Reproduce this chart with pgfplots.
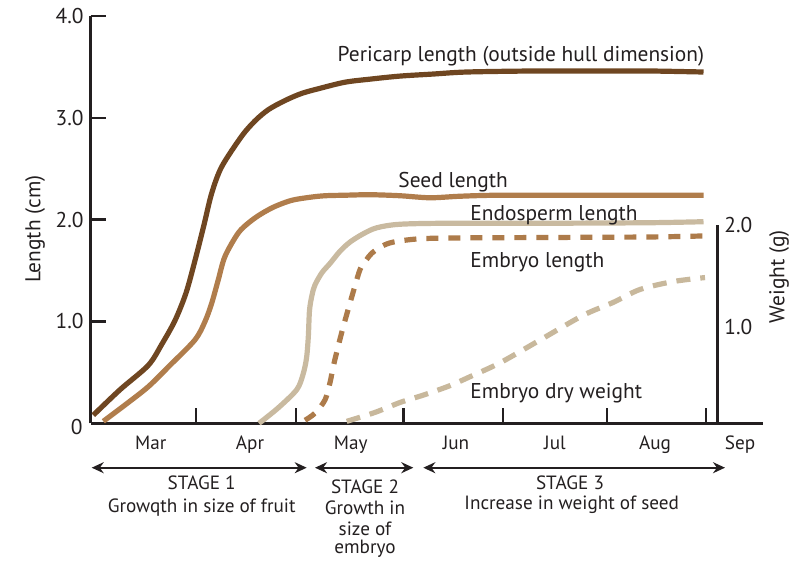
\documentclass[border=0pt]{standalone}
\usepackage{pgfplots}
\pgfplotsset{compat=1.18}
\usepackage{fontspec}
\setmainfont{PT Sans}
\usetikzlibrary{arrows.meta}
\definecolor{ink}{RGB}{35,31,32}
\definecolor{peri}{RGB}{111,70,33}
\definecolor{seed}{RGB}{176,125,76}
\definecolor{endo}{RGB}{201,186,160}
\definecolor{embl}{RGB}{173,123,74}
\definecolor{embw}{RGB}{200,184,156}
\newcommand{\lbl}{\fontsize{9.6}{11.4}\selectfont}
\newcommand{\lblbig}{\fontsize{10.7}{12.8}\selectfont}
\begin{document}
\begin{tikzpicture}[font=\lbl, text=ink]
\begin{axis}[
  scale only axis, width=336pt, height=203.65pt,
  xmin=90.7, xmax=762.7, ymin=0, ymax=4,
  axis lines=left, axis line style={-, line width=1.3pt, color=ink},
  xtick={196,295.7,403.3,502.7,606.7,706}, xticklabels={},
  ytick={1,2,3,4}, yticklabels={1.0,2.0,3.0,4.0},
  tick align=inside, major tick length=7.5pt,
  tick style={line width=1.2pt, color=ink},
  yticklabel style={font=\lblbig, color=ink},
  clip=false,
  every axis plot/.append style={line width=2.6pt, smooth, tension=0.5},
]
% Pericarp length
\addplot[peri] coordinates {
(93.3,0.08) (120,0.33) (148.3,0.57) (162,0.78) (175,1.01) (186,1.28) (195,1.60)
(204,1.95) (211.7,2.26) (221.7,2.52) (241.7,2.82) (255,2.97) (268.3,3.08)
(285,3.17) (301.7,3.24) (320,3.29) (345,3.35) (370,3.38) (400,3.41) (433,3.43)
(466.7,3.45) (533,3.46) (600,3.46) (650,3.46) (703.5,3.45)};
% Seed length
\addplot[seed] coordinates {
(103.3,0.02) (125,0.18) (148.3,0.36) (170,0.57) (195,0.82) (205,1.00) (211.7,1.18)
(218,1.40) (225,1.64) (238.3,1.87) (250,1.98) (261.7,2.06) (275,2.13) (291.7,2.19)
(310,2.22) (325,2.235) (345,2.24) (370,2.245) (400,2.235) (430,2.215) (460,2.23)
(500,2.24) (600,2.24) (703.5,2.24)};
% Endosperm length
\addplot[endo] coordinates {
(259,0.0) (278,0.15) (296.7,0.33) (303,0.48) (306.5,0.64) (308.3,0.85) (309.5,1.11)
(312,1.26) (315,1.36) (322,1.48) (330,1.57) (340,1.69) (350,1.78) (363,1.86)
(376.7,1.92) (400,1.955) (450,1.965) (550,1.965) (650,1.97) (703.5,1.98)};
% Embryo length
\addplot[embl, dash pattern=on 6pt off 5pt] coordinates {
(305,0.03) (315,0.10) (325,0.23) (330,0.40) (333.3,0.56) (338,0.75) (343.3,0.95)
(351.7,1.24) (360,1.51) (366,1.60) (371.7,1.67) (382,1.74) (393.3,1.78)
(416.7,1.81) (450,1.82) (550,1.825) (650,1.83) (703.5,1.84)};
% Embryo dry weight (g), right scale
\addplot[embw, dash pattern=on 7pt off 5pt, y filter/.expression={y*0.9737}] coordinates {
(346.7,0.02) (375,0.11) (400,0.21) (425,0.29) (450,0.38) (470,0.47) (500,0.61)
(540,0.84) (583.3,1.09) (613.3,1.22) (640,1.35) (673.3,1.43) (705,1.47)};

% right weight axis
\draw[ink, line width=1.3pt] (axis cs:717.7,0) -- (axis cs:717.7,1.948);
\node[anchor=west, inner sep=0pt, font=\lblbig] at (axis cs:724,1.946) {2.0};
\node[anchor=west, inner sep=0pt, font=\lblbig] at (axis cs:724,0.941) {1.0};
\node[rotate=90, inner sep=0pt, font=\lblbig] at (axis cs:779,1.44) {Weight (g)};
\node[rotate=90, inner sep=0pt, font=\lblbig] at (axis cs:35,1.906) {Length (cm)};
\node[inner sep=0pt, font=\lblbig] at (axis cs:76.7,-0.036) {0};

% month labels
\node[anchor=base, inner sep=0pt] at (axis cs:150.8,-0.262) {Mar};
\node[anchor=base, inner sep=0pt] at (axis cs:250,-0.262) {Apr};
\node[anchor=base, inner sep=0pt] at (axis cs:350.8,-0.262) {May};
\node[anchor=base, inner sep=0pt] at (axis cs:456,-0.262) {Jun};
\node[anchor=base, inner sep=0pt] at (axis cs:555,-0.262) {Jul};
\node[anchor=base, inner sep=0pt] at (axis cs:655,-0.262) {Aug};
\node[anchor=base, inner sep=0pt] at (axis cs:740,-0.262) {Sep};

% curve labels
\node[anchor=base west, inner sep=0pt, font=\lblbig] at (axis cs:337.3,3.55) {Pericarp length (outside hull dimension)};
\node[anchor=base west, inner sep=0pt, font=\lblbig] at (axis cs:398,2.318) {Seed length};
\node[anchor=base west, inner sep=0pt, font=\lblbig] at (axis cs:470,1.996) {Endosperm length};
\node[anchor=base west, inner sep=0pt, font=\lblbig] at (axis cs:470,1.532) {Embryo length};
\node[anchor=base west, inner sep=0pt, font=\lblbig] at (axis cs:470,0.245) {Embryo dry weight};

% stages
\draw[ink, line width=1.2pt, {Stealth[length=6pt,width=5.5pt]}-{Stealth[length=6pt,width=5.5pt]}]
  (axis cs:91.7,-0.436) -- (axis cs:306.7,-0.436);
\draw[ink, line width=1.2pt, {Stealth[length=6pt,width=5.5pt]}-{Stealth[length=6pt,width=5.5pt]}]
  (axis cs:315,-0.436) -- (axis cs:413.3,-0.436);
\draw[ink, line width=1.2pt, {Stealth[length=6pt,width=5.5pt]}-{Stealth[length=6pt,width=5.5pt]}]
  (axis cs:423.3,-0.436) -- (axis cs:725,-0.436);
\node[anchor=base, inner sep=0pt] at (axis cs:201.7,-0.654) {STAGE 1};
\node[anchor=base, inner sep=0pt] at (axis cs:201.7,-0.871) {Growqth in size of fruit};
\node[anchor=base, inner sep=0pt] at (axis cs:365,-0.687) {STAGE 2};
\node[anchor=base, inner sep=0pt] at (axis cs:365,-0.894) {Growth in};
\node[anchor=base, inner sep=0pt] at (axis cs:365,-1.097) {size of};
\node[anchor=base, inner sep=0pt] at (axis cs:365,-1.277) {embryo};
\node[anchor=base, inner sep=0pt] at (axis cs:570,-0.654) {STAGE 3};
\node[anchor=base, inner sep=0pt] at (axis cs:571.7,-0.851) {Increase in weight of seed};

% page extent
\path (rel axis cs:-0.135,-0.3405) rectangle (rel axis cs:1.054,1.0393);
\end{axis}
\end{tikzpicture}
\end{document}
